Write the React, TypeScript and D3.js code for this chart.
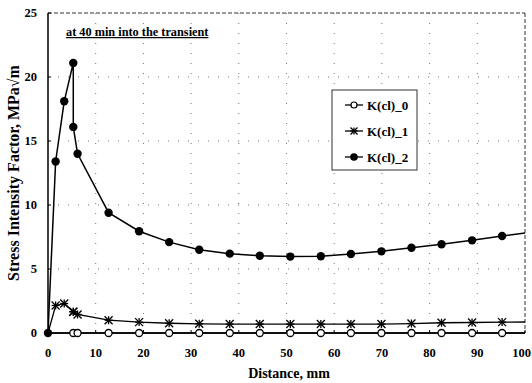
import React from "react";
import * as d3 from "d3";

const xK0 = [0, 5.3, 6.2, 12.7, 19.1, 25.4, 31.7, 38.1, 44.4, 50.8, 57.2, 63.5, 69.9, 76.2, 82.5, 88.9, 95.2, 101.6];
const yK0 = [0, 0, 0, 0, 0, 0, 0, 0, 0, 0, 0, 0, 0, 0, 0, 0, 0, 0];
const xK = [0, 1.6, 3.4, 5.3, 5.3, 6.2, 12.7, 19.1, 25.4, 31.7, 38.1, 44.4, 50.8, 57.2, 63.5, 69.9, 76.2, 82.5, 88.9, 95.2, 101.6];
const yK1 = [0, 2.15, 2.3, 1.66, 1.66, 1.45, 1.0, 0.85, 0.76, 0.72, 0.7, 0.7, 0.7, 0.7, 0.7, 0.7, 0.74, 0.8, 0.82, 0.85, 0.86];
const xK2 = [0, 1.6, 3.4, 5.3, 5.3, 6.2, 12.7, 19.1, 25.4, 31.7, 38.1, 44.4, 50.8, 57.2, 63.5, 69.9, 76.2, 82.5, 88.9, 95.2, 101.6];
const yK2 = [0, 13.4, 18.1, 21.1, 16.1, 14.0, 9.4, 7.95, 7.1, 6.5, 6.2, 6.04, 5.97, 6.0, 6.17, 6.38, 6.66, 6.93, 7.24, 7.58, 7.9];
const xTicks = [0, 10, 20, 30, 40, 50, 60, 70, 80, 90, 100];
const yTicks = [0, 5, 10, 15, 20, 25];
const seriesNames = ["K(cl)_0", "K(cl)_1", "K(cl)_2"];

const W = 532, H = 383;
const L = 48, R = 525, T = 13, B = 333;
const FONT = "Liberation Serif, Times New Roman, Times, serif";

function Star({ x, y, s = 4 }: { x: number; y: number; s?: number }) {
  return (
    <g stroke="#000" strokeWidth={1.3}>
      <line x1={x - s} y1={y - s} x2={x + s} y2={y + s} />
      <line x1={x - s} y1={y + s} x2={x + s} y2={y - s} />
      <line x1={x - s} y1={y} x2={x + s} y2={y} />
      <line x1={x} y1={y - s} x2={x} y2={y + s} />
    </g>
  );
}

export default function App() {
  const x = d3.scaleLinear().domain([0, 100]).range([L, R]);
  const y = d3.scaleLinear().domain([0, 25]).range([B, T]);
  const line = d3.line<[number, number]>().x((d) => x(d[0])).y((d) => y(d[1]));
  const d0 = xK0.map((v, i) => [v, yK0[i]] as [number, number]);
  const d1 = xK.map((v, i) => [v, yK1[i]] as [number, number]);
  const d2 = xK2.map((v, i) => [v, yK2[i]] as [number, number]);
  const inside = (d: [number, number]) => d[0] <= 100;

  const legY = [105, 131, 157];
  return (
    <svg width={W} height={H} style={{ position: "absolute", left: 0, top: 0, background: "#fff", fontFamily: FONT }}>
      <defs>
        <clipPath id="plot">
          <rect x={L} y={T - 5} width={R - L} height={B - T + 10} />
        </clipPath>
      </defs>
      {/* grid */}
      {xTicks.slice(1, -1).map((t) => (
        <line key={"gx" + t} x1={x(t)} x2={x(t)} y1={T} y2={B} stroke="#777" strokeWidth={1} strokeDasharray="1,9" />
      ))}
      {yTicks.slice(1, -1).map((t) => (
        <line key={"gy" + t} x1={L} x2={R} y1={y(t)} y2={y(t)} stroke="#777" strokeWidth={1} strokeDasharray="1,9" />
      ))}
      {/* frame */}
      <line x1={L} x2={R} y1={T} y2={T} stroke="#333" strokeWidth={1} strokeDasharray="4,2" />
      <line x1={R} x2={R} y1={T} y2={B} stroke="#333" strokeWidth={1} strokeDasharray="4,2" />
      <line x1={L} x2={L} y1={T} y2={B} stroke="#000" strokeWidth={1.5} />
      <line x1={L} x2={R} y1={B} y2={B} stroke="#000" strokeWidth={1.5} />
      {xTicks.map((t) => (
        <line key={"tx" + t} x1={x(t)} x2={x(t)} y1={B} y2={B - 3} stroke="#000" strokeWidth={1} />
      ))}
      {yTicks.map((t) => (
        <line key={"ty" + t} x1={L} x2={L + 3} y1={y(t)} y2={y(t)} stroke="#000" strokeWidth={1} />
      ))}
      {/* tick labels */}
      {xTicks.map((t) => (
        <text key={"lx" + t} x={t === 100 ? 531 : x(t)} y={357} textAnchor={t === 100 ? "end" : "middle"} fontSize={12.5} fontWeight="bold">{t}</text>
      ))}
      {yTicks.map((t) => (
        <text key={"ly" + t} x={37} y={y(t) + 4} textAnchor="end" fontSize={12.5} fontWeight="bold">{t}</text>
      ))}
      {/* axis titles */}
      <text x={289} y={378} textAnchor="middle" fontSize={14} fontWeight="bold">Distance, mm</text>
      <text transform="translate(19,173) rotate(-90)" textAnchor="middle" fontSize={16} fontWeight="bold">Stress Intensity Factor, MPa√m</text>
      {/* annotation */}
      <text x={66} y={36} fontSize={12.3} fontWeight="bold" textDecoration="underline">at 40 min into the transient</text>
      {/* series */}
      <g clipPath="url(#plot)">
        <path d={line(d0) || ""} fill="none" stroke="#000" strokeWidth={1.3} />
        <path d={line(d1) || ""} fill="none" stroke="#000" strokeWidth={1.3} />
        <path d={line(d2) || ""} fill="none" stroke="#000" strokeWidth={1.5} />
      </g>
      {d0.filter((d, i) => inside(d) && i > 0).map((d, i) => (
        <circle key={"c0" + i} cx={x(d[0])} cy={y(d[1])} r={3.5} fill="#fff" stroke="#000" strokeWidth={1.3} />
      ))}
      {d1.filter((d, i) => inside(d) && i > 0).map((d, i) => (
        <Star key={"s1" + i} x={x(d[0])} y={y(d[1])} />
      ))}
      {d2.filter(inside).map((d, i) => (
        <circle key={"c2" + i} cx={x(d[0])} cy={y(d[1])} r={4.2} fill="#000" />
      ))}
      {/* legend */}
      <rect x={332} y={90} width={85} height={80} fill="#fff" stroke="#333" strokeWidth={1} />
      {seriesNames.map((n, i) => (
        <g key={n}>
          <line x1={345} x2={363} y1={legY[i]} y2={legY[i]} stroke="#000" strokeWidth={1.3} />
          {i === 0 && <circle cx={354} cy={legY[i]} r={3} fill="#fff" stroke="#000" strokeWidth={1.2} />}
          {i === 1 && <Star x={354} y={legY[i]} s={3.5} />}
          {i === 2 && <circle cx={354} cy={legY[i]} r={3.8} fill="#000" />}
          <text x={367} y={legY[i] + 4.5} fontSize={13} fontWeight="bold">{n}</text>
        </g>
      ))}
    </svg>
  );
}
